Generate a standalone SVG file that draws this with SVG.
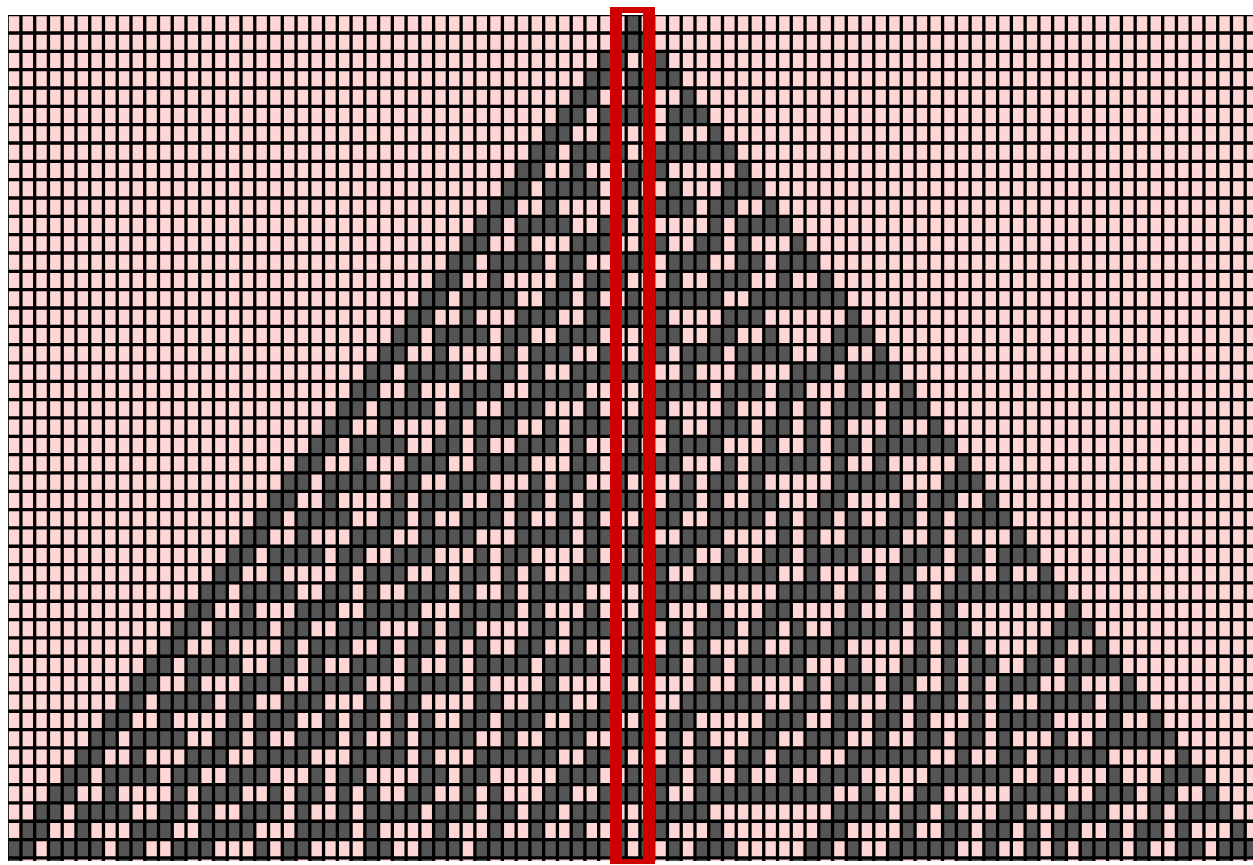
<svg xmlns="http://www.w3.org/2000/svg" width="1253" height="865" viewBox="0 0 1253 865">
<defs>
<style>
.bg{fill:#ffd6d6}
.cells path{fill:#555555}
.grid{stroke:#000000;fill:none}
.frame{fill:#d10000;fill-rule:evenodd}
</style>
<clipPath id="gridClip"><rect x="8" y="15" width="1245" height="846"/></clipPath>
<filter id="soft" x="-2%" y="-2%" width="104%" height="104%"><feGaussianBlur stdDeviation="0.55"/></filter>
</defs>
<rect width="1253" height="865" fill="#ffffff"/>
<g id="automaton" clip-path="url(#gridClip)" filter="url(#soft)">
<rect class="bg" x="8" y="15" width="1245" height="846"/>
<g class="cells" transform="translate(8 15) scale(13.756 18.333)">
<path d="M45 0h1v1h-1z"/>
<path d="M44 1h3v1h-3z"/>
<path d="M43 2h2v1h-2zM47 2h1v1h-1z"/>
<path d="M42 3h2v1h-2zM45 3h4v1h-4z"/>
<path d="M41 4h2v1h-2zM45 4h1v1h-1zM49 4h1v1h-1z"/>
<path d="M40 5h2v1h-2zM43 5h4v1h-4zM48 5h3v1h-3z"/>
<path d="M39 6h2v1h-2zM43 6h1v1h-1zM48 6h1v1h-1zM51 6h1v1h-1z"/>
<path d="M38 7h2v1h-2zM41 7h4v1h-4zM47 7h6v1h-6z"/>
<path d="M37 8h2v1h-2zM41 8h1v1h-1zM45 8h3v1h-3zM53 8h1v1h-1z"/>
<path d="M36 9h2v1h-2zM39 9h4v1h-4zM44 9h2v1h-2zM48 9h1v1h-1zM52 9h3v1h-3z"/>
<path d="M35 10h2v1h-2zM39 10h1v1h-1zM44 10h1v1h-1zM46 10h4v1h-4zM51 10h2v1h-2zM55 10h1v1h-1z"/>
<path d="M34 11h2v1h-2zM37 11h4v1h-4zM43 11h2v1h-2zM46 11h1v1h-1zM51 11h1v1h-1zM53 11h4v1h-4z"/>
<path d="M33 12h2v1h-2zM37 12h1v1h-1zM41 12h3v1h-3zM46 12h2v1h-2zM50 12h2v1h-2zM53 12h1v1h-1zM57 12h1v1h-1z"/>
<path d="M32 13h2v1h-2zM35 13h4v1h-4zM40 13h2v1h-2zM44 13h3v1h-3zM48 13h3v1h-3zM53 13h2v1h-2zM56 13h3v1h-3z"/>
<path d="M31 14h2v1h-2zM35 14h1v1h-1zM40 14h1v1h-1zM42 14h3v1h-3zM48 14h1v1h-1zM51 14h3v1h-3zM56 14h1v1h-1zM59 14h1v1h-1z"/>
<path d="M30 15h2v1h-2zM33 15h4v1h-4zM39 15h2v1h-2zM42 15h1v1h-1zM45 15h1v1h-1zM47 15h5v1h-5zM54 15h7v1h-7z"/>
<path d="M29 16h2v1h-2zM33 16h1v1h-1zM37 16h3v1h-3zM42 16h4v1h-4zM47 16h1v1h-1zM52 16h3v1h-3zM61 16h1v1h-1z"/>
<path d="M28 17h2v1h-2zM31 17h4v1h-4zM36 17h2v1h-2zM40 17h3v1h-3zM47 17h2v1h-2zM51 17h2v1h-2zM55 17h1v1h-1zM60 17h3v1h-3z"/>
<path d="M27 18h2v1h-2zM31 18h1v1h-1zM36 18h1v1h-1zM38 18h3v1h-3zM43 18h1v1h-1zM46 18h2v1h-2zM49 18h3v1h-3zM53 18h4v1h-4zM59 18h2v1h-2zM63 18h1v1h-1z"/>
<path d="M26 19h2v1h-2zM29 19h4v1h-4zM35 19h2v1h-2zM38 19h1v1h-1zM41 19h6v1h-6zM49 19h1v1h-1zM53 19h1v1h-1zM57 19h3v1h-3zM61 19h4v1h-4z"/>
<path d="M25 20h2v1h-2zM29 20h1v1h-1zM33 20h3v1h-3zM38 20h4v1h-4zM47 20h4v1h-4zM52 20h3v1h-3zM56 20h2v1h-2zM61 20h1v1h-1zM65 20h1v1h-1z"/>
<path d="M24 21h2v1h-2zM27 21h4v1h-4zM32 21h2v1h-2zM36 21h3v1h-3zM42 21h1v1h-1zM46 21h2v1h-2zM52 21h1v1h-1zM56 21h1v1h-1zM58 21h1v1h-1zM60 21h3v1h-3zM64 21h3v1h-3z"/>
<path d="M23 22h2v1h-2zM27 22h1v1h-1zM32 22h1v1h-1zM34 22h3v1h-3zM39 22h1v1h-1zM41 22h3v1h-3zM45 22h2v1h-2zM48 22h1v1h-1zM51 22h3v1h-3zM55 22h2v1h-2zM58 22h1v1h-1zM60 22h1v1h-1zM64 22h1v1h-1zM67 22h1v1h-1z"/>
<path d="M22 23h2v1h-2zM25 23h4v1h-4zM31 23h2v1h-2zM34 23h1v1h-1zM37 23h3v1h-3zM41 23h1v1h-1zM45 23h1v1h-1zM48 23h4v1h-4zM55 23h1v1h-1zM58 23h1v1h-1zM60 23h2v1h-2zM63 23h6v1h-6z"/>
<path d="M21 24h2v1h-2zM25 24h1v1h-1zM29 24h3v1h-3zM34 24h4v1h-4zM41 24h2v1h-2zM44 24h5v1h-5zM52 24h1v1h-1zM54 24h5v1h-5zM60 24h1v1h-1zM63 24h1v1h-1zM69 24h1v1h-1z"/>
<path d="M20 25h2v1h-2zM23 25h4v1h-4zM28 25h2v1h-2zM32 25h3v1h-3zM38 25h1v1h-1zM40 25h2v1h-2zM44 25h1v1h-1zM49 25h1v1h-1zM51 25h2v1h-2zM54 25h1v1h-1zM60 25h5v1h-5zM68 25h3v1h-3z"/>
<path d="M19 26h2v1h-2zM23 26h1v1h-1zM28 26h1v1h-1zM30 26h3v1h-3zM35 26h1v1h-1zM37 26h2v1h-2zM40 26h1v1h-1zM42 26h4v1h-4zM48 26h2v1h-2zM51 26h1v1h-1zM54 26h2v1h-2zM59 26h2v1h-2zM65 26h1v1h-1zM67 26h2v1h-2zM71 26h1v1h-1z"/>
<path d="M18 27h2v1h-2zM21 27h4v1h-4zM27 27h2v1h-2zM30 27h1v1h-1zM33 27h3v1h-3zM37 27h1v1h-1zM40 27h1v1h-1zM42 27h1v1h-1zM46 27h3v1h-3zM51 27h4v1h-4zM56 27h1v1h-1zM58 27h2v1h-2zM61 27h1v1h-1zM64 27h2v1h-2zM67 27h1v1h-1zM69 27h4v1h-4z"/>
<path d="M17 28h2v1h-2zM21 28h1v1h-1zM25 28h3v1h-3zM30 28h4v1h-4zM37 28h4v1h-4zM42 28h2v1h-2zM45 28h2v1h-2zM49 28h3v1h-3zM56 28h1v1h-1zM58 28h1v1h-1zM61 28h4v1h-4zM67 28h1v1h-1zM69 28h1v1h-1zM73 28h1v1h-1z"/>
<path d="M16 29h2v1h-2zM19 29h4v1h-4zM24 29h2v1h-2zM28 29h3v1h-3zM34 29h1v1h-1zM36 29h2v1h-2zM42 29h1v1h-1zM45 29h1v1h-1zM47 29h3v1h-3zM52 29h1v1h-1zM55 29h2v1h-2zM58 29h4v1h-4zM65 29h3v1h-3zM69 29h2v1h-2zM72 29h3v1h-3z"/>
<path d="M15 30h2v1h-2zM19 30h1v1h-1zM24 30h1v1h-1zM26 30h3v1h-3zM31 30h1v1h-1zM33 30h2v1h-2zM36 30h1v1h-1zM38 30h1v1h-1zM41 30h5v1h-5zM47 30h1v1h-1zM50 30h6v1h-6zM58 30h1v1h-1zM62 30h1v1h-1zM64 30h2v1h-2zM69 30h1v1h-1zM72 30h1v1h-1zM75 30h1v1h-1z"/>
<path d="M14 31h2v1h-2zM17 31h4v1h-4zM23 31h2v1h-2zM26 31h1v1h-1zM29 31h3v1h-3zM33 31h1v1h-1zM36 31h1v1h-1zM38 31h4v1h-4zM47 31h4v1h-4zM56 31h4v1h-4zM61 31h2v1h-2zM64 31h1v1h-1zM66 31h1v1h-1zM68 31h9v1h-9z"/>
<path d="M13 32h2v1h-2zM17 32h1v1h-1zM21 32h3v1h-3zM26 32h4v1h-4zM33 32h4v1h-4zM38 32h1v1h-1zM42 32h1v1h-1zM46 32h2v1h-2zM51 32h1v1h-1zM55 32h2v1h-2zM61 32h1v1h-1zM64 32h1v1h-1zM66 32h1v1h-1zM68 32h1v1h-1zM77 32h1v1h-1z"/>
<path d="M12 33h2v1h-2zM15 33h4v1h-4zM20 33h2v1h-2zM24 33h3v1h-3zM30 33h1v1h-1zM32 33h2v1h-2zM38 33h2v1h-2zM41 33h3v1h-3zM45 33h2v1h-2zM48 33h1v1h-1zM50 33h3v1h-3zM54 33h2v1h-2zM57 33h1v1h-1zM60 33h5v1h-5zM66 33h1v1h-1zM68 33h2v1h-2zM76 33h3v1h-3z"/>
<path d="M11 34h2v1h-2zM15 34h1v1h-1zM20 34h1v1h-1zM22 34h3v1h-3zM27 34h1v1h-1zM29 34h2v1h-2zM32 34h1v1h-1zM34 34h1v1h-1zM37 34h2v1h-2zM41 34h1v1h-1zM45 34h1v1h-1zM48 34h1v1h-1zM50 34h1v1h-1zM54 34h1v1h-1zM57 34h4v1h-4zM66 34h1v1h-1zM68 34h1v1h-1zM70 34h1v1h-1zM75 34h2v1h-2zM79 34h1v1h-1z"/>
<path d="M10 35h2v1h-2zM13 35h4v1h-4zM19 35h2v1h-2zM22 35h1v1h-1zM25 35h3v1h-3zM29 35h1v1h-1zM32 35h1v1h-1zM34 35h4v1h-4zM39 35h4v1h-4zM44 35h5v1h-5zM50 35h2v1h-2zM53 35h5v1h-5zM61 35h1v1h-1zM65 35h2v1h-2zM68 35h1v1h-1zM70 35h2v1h-2zM74 35h2v1h-2zM77 35h4v1h-4z"/>
<path d="M9 36h2v1h-2zM13 36h1v1h-1zM17 36h3v1h-3zM22 36h4v1h-4zM29 36h4v1h-4zM34 36h1v1h-1zM39 36h1v1h-1zM44 36h1v1h-1zM50 36h1v1h-1zM53 36h1v1h-1zM58 36h1v1h-1zM60 36h3v1h-3zM64 36h2v1h-2zM68 36h1v1h-1zM70 36h1v1h-1zM72 36h3v1h-3zM77 36h1v1h-1zM81 36h1v1h-1z"/>
<path d="M8 37h2v1h-2zM11 37h4v1h-4zM16 37h2v1h-2zM20 37h3v1h-3zM26 37h1v1h-1zM28 37h2v1h-2zM34 37h2v1h-2zM38 37h3v1h-3zM43 37h3v1h-3zM49 37h6v1h-6zM57 37h2v1h-2zM60 37h1v1h-1zM64 37h1v1h-1zM66 37h3v1h-3zM70 37h1v1h-1zM72 37h1v1h-1zM75 37h4v1h-4zM80 37h3v1h-3z"/>
<path d="M7 38h2v1h-2zM11 38h1v1h-1zM16 38h1v1h-1zM18 38h3v1h-3zM23 38h1v1h-1zM25 38h2v1h-2zM28 38h1v1h-1zM30 38h1v1h-1zM33 38h2v1h-2zM36 38h3v1h-3zM41 38h3v1h-3zM46 38h1v1h-1zM48 38h2v1h-2zM55 38h3v1h-3zM60 38h2v1h-2zM63 38h2v1h-2zM66 38h1v1h-1zM70 38h1v1h-1zM72 38h4v1h-4zM80 38h1v1h-1zM83 38h1v1h-1z"/>
<path d="M6 39h2v1h-2zM9 39h4v1h-4zM15 39h2v1h-2zM18 39h1v1h-1zM21 39h3v1h-3zM25 39h1v1h-1zM28 39h1v1h-1zM30 39h4v1h-4zM36 39h1v1h-1zM39 39h3v1h-3zM44 39h3v1h-3zM48 39h1v1h-1zM50 39h1v1h-1zM54 39h2v1h-2zM58 39h3v1h-3zM63 39h1v1h-1zM66 39h2v1h-2zM69 39h2v1h-2zM72 39h1v1h-1zM76 39h1v1h-1zM79 39h6v1h-6z"/>
<path d="M5 40h2v1h-2zM9 40h1v1h-1zM13 40h3v1h-3zM18 40h4v1h-4zM25 40h4v1h-4zM30 40h1v1h-1zM34 40h6v1h-6zM42 40h3v1h-3zM48 40h1v1h-1zM50 40h2v1h-2zM53 40h2v1h-2zM56 40h3v1h-3zM61 40h6v1h-6zM69 40h1v1h-1zM72 40h2v1h-2zM75 40h5v1h-5zM85 40h1v1h-1z"/>
<path d="M4 41h2v1h-2zM7 41h4v1h-4zM12 41h2v1h-2zM16 41h3v1h-3zM22 41h1v1h-1zM24 41h2v1h-2zM30 41h2v1h-2zM33 41h2v1h-2zM40 41h3v1h-3zM45 41h1v1h-1zM47 41h2v1h-2zM50 41h1v1h-1zM53 41h1v1h-1zM56 41h1v1h-1zM59 41h3v1h-3zM67 41h6v1h-6zM75 41h1v1h-1zM80 41h1v1h-1zM84 41h3v1h-3z"/>
<path d="M3 42h2v1h-2zM7 42h1v1h-1zM12 42h1v1h-1zM14 42h3v1h-3zM19 42h1v1h-1zM21 42h2v1h-2zM24 42h1v1h-1zM26 42h1v1h-1zM29 42h2v1h-2zM33 42h1v1h-1zM35 42h1v1h-1zM39 42h2v1h-2zM43 42h3v1h-3zM47 42h1v1h-1zM50 42h10v1h-10zM62 42h1v1h-1zM66 42h2v1h-2zM73 42h4v1h-4zM79 42h3v1h-3zM83 42h2v1h-2zM87 42h1v1h-1z"/>
<path d="M2 43h2v1h-2zM5 43h4v1h-4zM11 43h2v1h-2zM14 43h1v1h-1zM17 43h3v1h-3zM21 43h1v1h-1zM24 43h1v1h-1zM26 43h4v1h-4zM31 43h3v1h-3zM35 43h2v1h-2zM38 43h2v1h-2zM41 43h3v1h-3zM47 43h4v1h-4zM60 43h4v1h-4zM65 43h2v1h-2zM68 43h1v1h-1zM72 43h2v1h-2zM77 43h3v1h-3zM83 43h1v1h-1zM85 43h4v1h-4z"/>
<path d="M1 44h2v1h-2zM5 44h1v1h-1zM9 44h3v1h-3zM14 44h4v1h-4zM21 44h4v1h-4zM26 44h1v1h-1zM31 44h1v1h-1zM35 44h1v1h-1zM38 44h1v1h-1zM41 44h1v1h-1zM44 44h1v1h-1zM46 44h2v1h-2zM51 44h1v1h-1zM59 44h2v1h-2zM65 44h1v1h-1zM68 44h2v1h-2zM71 44h2v1h-2zM74 44h1v1h-1zM76 44h2v1h-2zM80 44h1v1h-1zM82 44h2v1h-2zM85 44h1v1h-1zM89 44h1v1h-1z"/>
<path d="M0 45h2v1h-2zM3 45h4v1h-4zM8 45h2v1h-2zM12 45h3v1h-3zM18 45h1v1h-1zM20 45h2v1h-2zM26 45h2v1h-2zM30 45h3v1h-3zM34 45h11v1h-11zM46 45h1v1h-1zM48 45h1v1h-1zM50 45h3v1h-3zM58 45h2v1h-2zM61 45h1v1h-1zM64 45h5v1h-5zM71 45h1v1h-1zM74 45h1v1h-1zM76 45h1v1h-1zM78 45h3v1h-3zM82 45h1v1h-1zM85 45h2v1h-2zM88 45h3v1h-3z"/>
<path d="M0 46h1v1h-1zM3 46h1v1h-1zM8 46h1v1h-1zM10 46h3v1h-3zM15 46h1v1h-1zM17 46h2v1h-2zM20 46h1v1h-1zM22 46h1v1h-1zM25 46h2v1h-2zM28 46h3v1h-3zM34 46h1v1h-1zM46 46h1v1h-1zM48 46h1v1h-1zM50 46h1v1h-1zM53 46h1v1h-1zM57 46h2v1h-2zM61 46h4v1h-4zM69 46h6v1h-6zM76 46h1v1h-1zM78 46h1v1h-1zM82 46h4v1h-4zM88 46h1v1h-1z"/>
</g>
<line class="grid" x1="8" y1="438" x2="1253" y2="438" stroke-width="846" stroke-dasharray="3.3 10.456" stroke-dashoffset="2.476"/>
<line class="grid" x1="630.5" y1="15" x2="630.5" y2="861" stroke-width="1245" stroke-dasharray="3.33 15.003" stroke-dashoffset="2.033"/>
</g>
<g id="center-column-highlight">
<path class="frame" d="M610 7H655V864H610ZM622 13V859H643V13Z"/>
</g>
</svg>
